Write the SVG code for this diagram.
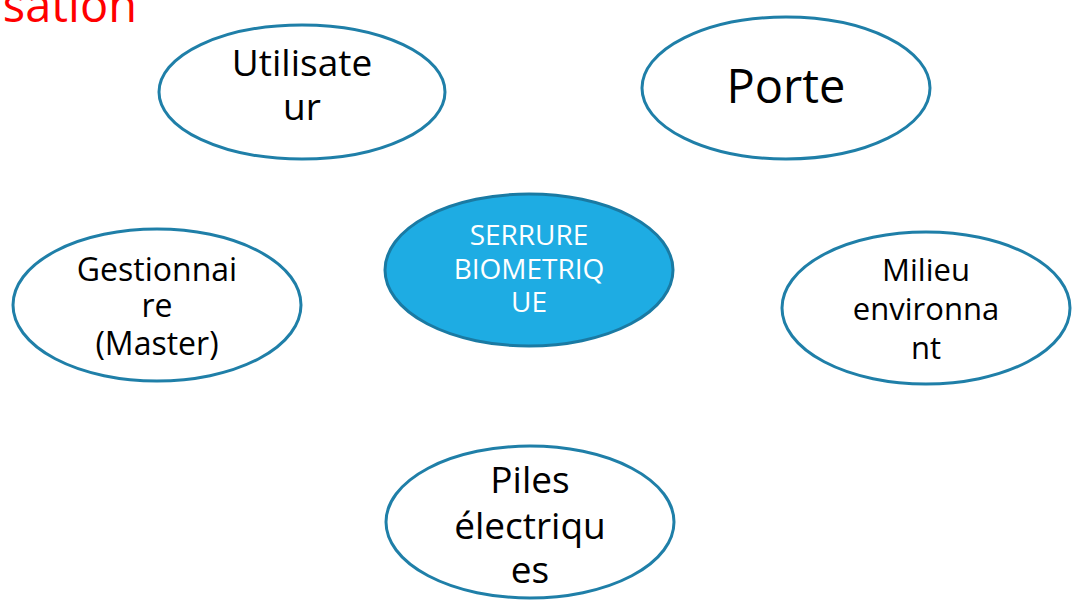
<svg xmlns="http://www.w3.org/2000/svg" width="1078" height="601" viewBox="0 0 1078 601">
  <style>
    .node { fill: #ffffff; stroke: #1f7fa8; stroke-width: 3; }
    .core { fill: #1eace3; stroke: #1a7aa3; stroke-width: 3; }
    text { font-family: "Open Sans", "Noto Sans", "DejaVu Sans", sans-serif; text-anchor: middle; fill: #000000; }
    .white { fill: #ffffff; }
  </style>
  <rect width="1078" height="601" fill="#ffffff"/>
  <text x="137" y="22" style="text-anchor:end; fill:#ff0000; font-size:47px">sation</text>
  <g id="connectors"/>
  <g id="utilisateur">
    <ellipse class="node" cx="302" cy="92" rx="143" ry="67"/>
    <text x="302" y="76" style="font-size:37px">Utilisate</text>
    <text x="302" y="120" style="font-size:37px">ur</text>
  </g>
  <g id="porte">
    <ellipse class="node" cx="786" cy="88" rx="144" ry="71"/>
    <text x="786" y="103" style="font-size:47px">Porte</text>
  </g>
  <g id="serrure">
    <ellipse class="core" cx="529" cy="270" rx="144" ry="76"/>
    <text class="white" x="529" y="245" style="font-size:28px">SERRURE</text>
    <text class="white" x="529" y="279" style="font-size:28px">BIOMETRIQ</text>
    <text class="white" x="529" y="312" style="font-size:28px">UE</text>
  </g>
  <g id="gestionnaire">
    <ellipse class="node" cx="157" cy="305" rx="144" ry="76"/>
    <text x="157" y="281" style="font-size:32px">Gestionnai</text>
    <text x="157" y="317" style="font-size:32px">re</text>
    <text x="157" y="355" style="font-size:32px">(Master)</text>
  </g>
  <g id="milieu">
    <ellipse class="node" cx="926" cy="308" rx="144" ry="76"/>
    <text x="926" y="281" style="font-size:31px">Milieu</text>
    <text x="926" y="320" style="font-size:31px">environna</text>
    <text x="926" y="359" style="font-size:31px">nt</text>
  </g>
  <g id="piles">
    <ellipse class="node" cx="530" cy="522" rx="144" ry="76"/>
    <text x="530" y="493" style="font-size:37px">Piles</text>
    <text x="530" y="539" style="font-size:37px">électriqu</text>
    <text x="530" y="583" style="font-size:37px">es</text>
  </g>
</svg>
